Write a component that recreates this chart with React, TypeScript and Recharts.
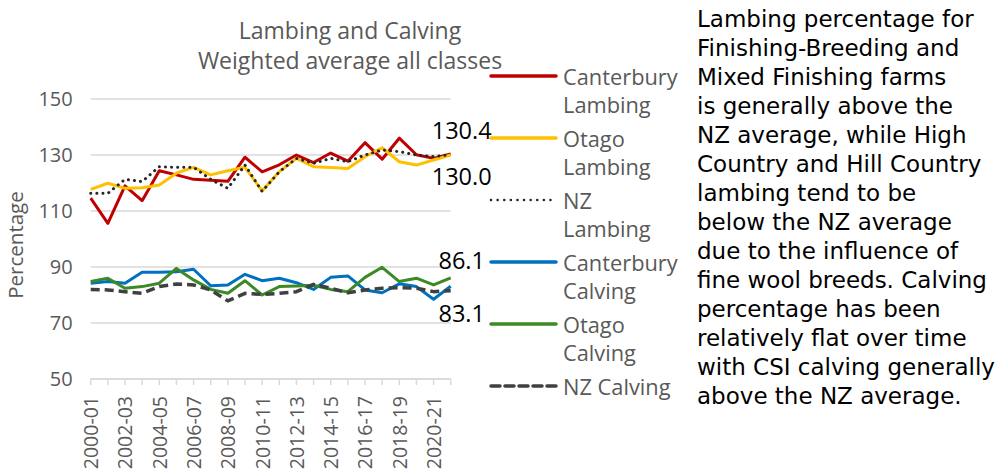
import React from "react";
import { LineChart, Line, XAxis, YAxis, CartesianGrid } from "recharts";

const years = [
  "2000-01", "2001-02", "2002-03", "2003-04", "2004-05", "2005-06", "2006-07", "2007-08",
  "2008-09", "2009-10", "2010-11", "2011-12", "2012-13", "2013-14", "2014-15", "2015-16",
  "2016-17", "2017-18", "2018-19", "2019-20", "2020-21", "2021-22",
];

const canterburyLambing = [114.6, 105.6, 119, 113.7, 124.4, 122.9, 121.3, 121, 120.6, 129.2, 124, 126.5, 130, 127.3, 130.7, 127.8, 134.4, 128.5, 136, 130.1, 128.8, 130.4];
const otagoLambing = [117.7, 119.9, 118.1, 118.3, 119.3, 123.5, 125.6, 122.9, 124.4, 125.6, 117.2, 124, 128.8, 125.8, 125.5, 125.2, 129.4, 132.6, 127.6, 126.4, 128.2, 130.0];
const nzLambing = [116.3, 116.3, 121.3, 120.5, 125.8, 125.6, 125.6, 121.3, 118.1, 126.4, 117, 124, 128.8, 127, 128.8, 127.6, 130, 131.8, 131.2, 130, 129.4, 130.2];
const canterburyCalving = [84.2, 84.8, 84.2, 88.1, 88.1, 88.3, 89.2, 83.3, 83.6, 87.4, 85.1, 86, 84.4, 82, 86.3, 86.8, 81.8, 80.8, 84, 83, 78.5, 83.1];
const otagoCalving = [84.8, 86, 82.4, 83, 84.2, 89.5, 85.4, 82, 80.6, 85.1, 80, 83, 83.2, 83.5, 82, 81.2, 86.3, 89.9, 84.8, 86, 83.6, 86.1];
const nzCalving = [82, 81.8, 81.2, 80.6, 83, 83.9, 83.6, 81.8, 77.9, 80.6, 80.2, 80.6, 81.2, 83.8, 82.4, 80.8, 81.8, 82.4, 82.6, 82.4, 81.2, 81.5];

const yTicks = [50, 70, 90, 110, 130, 150];

const titleLines = ["Lambing and Calving", "Weighted average all classes"];
const yAxisTitle = "Percentage";

const legendNames = [
  ["Canterbury", "Lambing"],
  ["Otago", "Lambing"],
  ["NZ", "Lambing"],
  ["Canterbury", "Calving"],
  ["Otago", "Calving"],
  ["NZ Calving"],
];

const paragraphLines = [
  "Lambing percentage for",
  "Finishing-Breeding and",
  "Mixed Finishing farms",
  "is generally above the",
  "NZ average, while High",
  "Country and Hill Country",
  "lambing tend to be",
  "below the NZ average",
  "due to the influence of",
  "fine wool breeds. Calving",
  "percentage has been",
  "relatively flat over time",
  "with CSI calving generally",
  "above the NZ average.",
];

const data = years.map((y, i) => ({
  year: y,
  cl: canterburyLambing[i],
  ol: otagoLambing[i],
  nl: nzLambing[i],
  cc: canterburyCalving[i],
  oc: otagoCalving[i],
  nc: nzCalving[i],
}));

const FONT = "'Open Sans', sans-serif";
const PARA_FONT = "'DejaVu Sans', sans-serif";
const GREY = "#595959";

const series = [
  { key: "cl", color: "#C00000", width: 3, dash: undefined as string | undefined, cap: "butt" },
  { key: "ol", color: "#FFC000", width: 3, dash: undefined, cap: "butt" },
  { key: "nl", color: "#262626", width: 3, dash: "0.1 6", cap: "round" },
  { key: "cc", color: "#0070C0", width: 3, dash: undefined, cap: "butt" },
  { key: "oc", color: "#3B8A25", width: 3, dash: undefined, cap: "butt" },
  { key: "nc", color: "#404040", width: 3.5, dash: "9 5", cap: "butt" },
];

const labelOffsets: Record<string, number> = { cl: -24, ol: 21, oc: -18, cc: 27 };

const makeLabel = (key: string) => (props: any) => {
  const { x, y, index, value } = props;
  if (index !== years.length - 1 || labelOffsets[key] === undefined) return null;
  return (
    <text
      key={key + "-lbl"}
      x={x + 11}
      y={y + labelOffsets[key]}
      textAnchor="middle"
      dominantBaseline="central"
      fontSize={23.5}
      fontFamily={FONT}
      fill="#000"
    >
      {Number(value).toFixed(1)}
    </text>
  );
};

const XTick = (props: any) => {
  const { x, y, payload } = props;
  const idx = years.indexOf(payload.value);
  if (idx % 2 !== 0) return null;
  return (
    <text
      x={x}
      y={y}
      transform={`rotate(-90 ${x} ${y})`}
      textAnchor="end"
      dominantBaseline="central"
      fontSize={19.5}
      fontFamily={FONT}
      fill={GREY}
    >
      {payload.value}
    </text>
  );
};

export default function App() {
  return (
    <div style={{ position: "absolute", left: 0, top: 0, width: 999, height: 474, background: "#fff", overflow: "hidden" }}>
      <LineChart
        width={999}
        height={474}
        data={data}
        margin={{ top: 99, right: 548.3, bottom: 0, left: 0 }}
      >
        <CartesianGrid vertical={false} stroke="#d9d9d9" strokeWidth={1.3} />
        <XAxis
          dataKey="year"
          interval={0}
          height={95}
          tick={<XTick />}
          tickSize={6}
          tickMargin={11}
          axisLine={{ stroke: "#d9d9d9", strokeWidth: 1.5 }}
          tickLine={{ stroke: "#d9d9d9", strokeWidth: 1.5 }}
        />
        <YAxis
          type="number"
          domain={[50, 150]}
          ticks={yTicks}
          width={90.7}
          axisLine={false}
          tickLine={false}
          tickSize={6}
          tickMargin={12}
          tick={{ fontSize: 20, fill: GREY, fontFamily: FONT }}
        />
        {series.map((s) => (
          <Line
            key={s.key}
            type="linear"
            dataKey={s.key}
            stroke={s.color}
            strokeWidth={s.width}
            strokeDasharray={s.dash}
            strokeLinecap={s.cap as any}
            strokeLinejoin="round"
            dot={false}
            activeDot={false}
            isAnimationActive={false}
            label={makeLabel(s.key)}
          />
        ))}
      </LineChart>
      <svg
        width={999}
        height={474}
        style={{ position: "absolute", left: 0, top: 0, pointerEvents: "none" }}
        fontFamily={FONT}
      >
        <text x={350} y={30} textAnchor="middle" dominantBaseline="central" fontSize={23} fill={GREY}>
          {titleLines[0]}
        </text>
        <text x={350} y={60} textAnchor="middle" dominantBaseline="central" fontSize={23} fill={GREY}>
          {titleLines[1]}
        </text>
        <text
          x={15}
          y={245}
          transform="rotate(-90 15 245)"
          textAnchor="middle"
          dominantBaseline="central"
          fontSize={20.5}
          fill={GREY}
        >
          {yAxisTitle}
        </text>
        {legendNames.map((lines, i) => {
          const s = series[i];
          const cy = 76 + i * 62;
          return (
            <g key={i}>
              <line
                x1={491}
                x2={556}
                y1={cy}
                y2={cy}
                stroke={s.color}
                strokeWidth={s.key === "nl" ? 2.5 : 3.5}
                strokeDasharray={s.key === "nl" ? "0.1 6.5" : s.dash}
                strokeLinecap="round"
              />
              {lines.map((t, j) => (
                <text key={j} x={563} y={cy + j * 28} dominantBaseline="central" fontSize={21.8} fill={GREY}>
                  {t}
                </text>
              ))}
            </g>
          );
        })}
        {paragraphLines.map((t, i) => (
          <text
            key={i}
            x={697}
            y={19 + i * 29}
            dominantBaseline="central"
            fontSize={23}
            fontFamily={PARA_FONT}
            fill="#000"
          >
            {t}
          </text>
        ))}
      </svg>
    </div>
  );
}
